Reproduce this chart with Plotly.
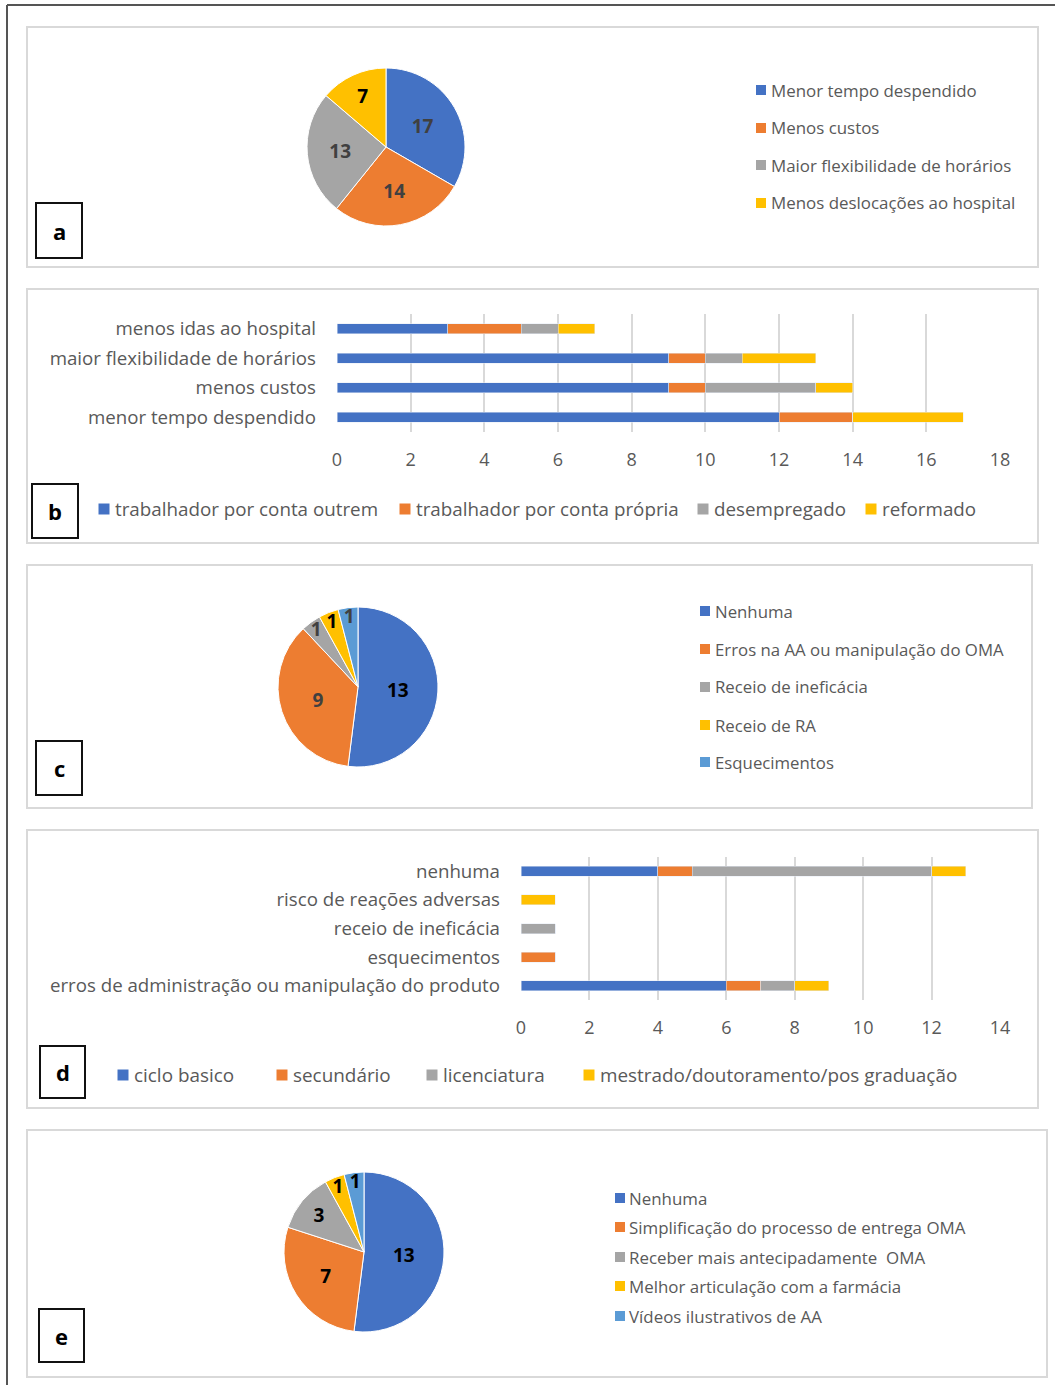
import plotly.graph_objects as go

W, H = 1055, 1385
FONT = "Open Sans"
GRAY_TXT = "#595959"

# ---------------- data ----------------
a_labels = ["Menor tempo despendido", "Menos custos", "Maior flexibilidade de horários", "Menos deslocações ao hospital"]
a_values = [17, 14, 13, 7]

b_categories = ["menor tempo despendido", "menos custos", "maior flexibilidade de horários", "menos idas ao hospital"]
b_series = ["trabalhador por conta outrem", "trabalhador por conta própria", "desempregado", "reformado"]
b_outrem = [12, 9, 9, 3]
b_propria = [2, 1, 1, 2]
b_desempregado = [0, 3, 1, 1]
b_reformado = [3, 1, 2, 1]

c_labels = ["Nenhuma", "Erros na AA ou manipulação do OMA", "Receio de ineficácia", "Receio de RA", "Esquecimentos"]
c_values = [13, 9, 1, 1, 1]

d_categories = ["erros de administração ou manipulação do produto", "esquecimentos", "receio de ineficácia",
                "risco de reações adversas", "nenhuma"]
d_series = ["ciclo basico", "secundário", "licenciatura", "mestrado/doutoramento/pos graduação"]
d_ciclo = [6, 0, 0, 0, 4]
d_secundario = [1, 1, 0, 0, 1]
d_licenciatura = [1, 0, 1, 0, 7]
d_mestrado = [1, 0, 0, 1, 1]

e_labels = ["Nenhuma", "Simplificação do processo de entrega OMA", "Receber mais antecipadamente  OMA",
            "Melhor articulação com a farmácia", "Vídeos ilustrativos de AA"]
e_values = [13, 7, 3, 1, 1]

panel_letters = ["a", "b", "c", "d", "e"]

# ---------------- styling ----------------
BLUE, ORANGE, GRAY, YELLOW, LBLUE = "#4472C4", "#ED7D31", "#A5A5A5", "#FFC000", "#5B9BD5"


def X(px):
    return px / W


def Y(py):
    return 1 - py / H


fig = go.Figure()


def pie_domain(cx, cy, r):
    return dict(x=[X(cx - r), X(cx + r)], y=[Y(cy + r), Y(cy - r)])


def add_pie(labels, values, colors, txtcolors, dom):
    fig.add_trace(go.Pie(
        labels=labels, values=values, sort=False, direction="clockwise", rotation=0,
        marker=dict(colors=colors, line=dict(color="white", width=1)),
        textinfo="value", texttemplate="<b>%{value}</b>",
        textposition="inside", insidetextorientation="horizontal",
        textfont=dict(family=FONT, size=19, color=txtcolors),
        domain=dom, showlegend=False, hoverinfo="label+value", automargin=False,
    ))


add_pie(a_labels, a_values, [BLUE, ORANGE, GRAY, YELLOW],
        ["#404040", "#404040", "#404040", "#000000"], pie_domain(386, 147, 79))
add_pie(c_labels, c_values, [BLUE, ORANGE, GRAY, YELLOW, LBLUE],
        ["#000000", "#404040", "#404040", "#000000", "#404040"], pie_domain(358, 687, 80))
add_pie(e_labels, e_values, [BLUE, ORANGE, GRAY, YELLOW, LBLUE],
        ["#000000"] * 5, pie_domain(364, 1252, 80))

# bar chart b
for name, vals, col in zip(b_series, [b_outrem, b_propria, b_desempregado, b_reformado],
                           [BLUE, ORANGE, GRAY, YELLOW]):
    fig.add_trace(go.Bar(x=vals, y=b_categories, orientation="h", name=name, marker_color=col,
                         xaxis="x", yaxis="y", showlegend=False))

# bar chart d
for name, vals, col in zip(d_series, [d_ciclo, d_secundario, d_licenciatura, d_mestrado],
                           [BLUE, ORANGE, GRAY, YELLOW]):
    fig.add_trace(go.Bar(x=vals, y=d_categories, orientation="h", name=name, marker_color=col,
                         xaxis="x2", yaxis="y2", showlegend=False))

xaxis_common = dict(showgrid=True, gridcolor="#d9d9d9", gridwidth=1.5, zeroline=False, showline=False,
                    ticks="", dtick=2, tickfont=dict(family=FONT, size=18, color=GRAY_TXT),
                    ticklabelstandoff=15, fixedrange=True, automargin=False)
yaxis_common = dict(showgrid=False, zeroline=False, showline=False, ticks="", type="category",
                    tickfont=dict(family=FONT, size=18.7, color=GRAY_TXT), ticklabelstandoff=20,
                    fixedrange=True, automargin=False)

fig.update_layout(
    width=W, height=H, margin=dict(l=0, r=0, t=0, b=0, pad=0, autoexpand=False),
    paper_bgcolor="white", plot_bgcolor="white",
    barmode="stack", bargap=0.65,
    xaxis=dict(domain=[X(337), X(1000)], range=[0, 18], anchor="y", **xaxis_common),
    yaxis=dict(domain=[Y(432), Y(314)], range=[-0.5, 3.5], anchor="x", **yaxis_common),
    xaxis2=dict(domain=[X(521), X(1000)], range=[0, 14], anchor="y2", **xaxis_common),
    yaxis2=dict(domain=[Y(1000), Y(857)], range=[-0.5, 4.5], anchor="x2", **yaxis_common),
    uniformtext=dict(minsize=19, mode="show"),
    showlegend=False,
)

shapes = []
annotations = []

# outer frame (top and left)
shapes.append(dict(type="line", xref="paper", yref="paper", x0=X(7), x1=X(1056), y0=Y(5), y1=Y(5),
                   line=dict(color="#555555", width=2)))
shapes.append(dict(type="line", xref="paper", yref="paper", x0=X(7), x1=X(7), y0=Y(5), y1=Y(1386),
                   line=dict(color="#555555", width=2)))

# panel frames
panels = [(27, 27, 1038, 267), (27, 289, 1038, 543), (27, 565, 1032, 808),
          (27, 830, 1038, 1108), (27, 1130, 1047, 1377)]
for (x0, y0, x1, y1) in panels:
    shapes.append(dict(type="rect", xref="paper", yref="paper", x0=X(x0), x1=X(x1), y0=Y(y1), y1=Y(y0),
                       line=dict(color="#d9d9d9", width=2), layer="below"))

# letter boxes
letter_boxes = [(36, 203, 82, 258), (32, 484, 78, 538), (36, 741, 82, 795), (40, 1046, 85, 1098),
                (39, 1309, 84, 1362)]
for letter, (x0, y0, x1, y1) in zip(panel_letters, letter_boxes):
    shapes.append(dict(type="rect", xref="paper", yref="paper", x0=X(x0), x1=X(x1), y0=Y(y1), y1=Y(y0),
                       line=dict(color="#111111", width=2), fillcolor="white"))
    annotations.append(dict(text=f"<b>{letter}</b>", xref="paper", yref="paper",
                            x=X((x0 + x1) / 2), y=Y((y0 + y1) / 2), showarrow=False,
                            xanchor="center", yanchor="middle",
                            font=dict(family=FONT, size=22, color="#000000")))


def add_legend(labels, colors, sq_x, text_x, ys, size, sq=10):
    for lab, col, yy in zip(labels, colors, ys):
        shapes.append(dict(type="rect", xref="paper", yref="paper",
                           x0=X(sq_x - sq / 2), x1=X(sq_x + sq / 2),
                           y0=Y(yy + sq / 2), y1=Y(yy - sq / 2),
                           fillcolor=col, line=dict(width=0)))
        annotations.append(dict(text=lab, xref="paper", yref="paper", x=X(text_x), y=Y(yy),
                                xanchor="left", yanchor="middle", showarrow=False,
                                font=dict(family=FONT, size=size, color=GRAY_TXT)))


def add_h_legend(labels, colors, sq_xs, y, size, sq=11):
    for lab, col, sx in zip(labels, colors, sq_xs):
        shapes.append(dict(type="rect", xref="paper", yref="paper",
                           x0=X(sx - sq / 2), x1=X(sx + sq / 2),
                           y0=Y(y + sq / 2), y1=Y(y - sq / 2),
                           fillcolor=col, line=dict(width=0)))
        annotations.append(dict(text=lab, xref="paper", yref="paper", x=X(sx + 9), y=Y(y),
                                xanchor="left", yanchor="middle", showarrow=False,
                                font=dict(family=FONT, size=size, color=GRAY_TXT)))


add_legend(a_labels, [BLUE, ORANGE, GRAY, YELLOW], 761, 769, [90, 128, 165, 203], 16.9)
add_legend(c_labels, [BLUE, ORANGE, GRAY, YELLOW, LBLUE], 705, 713, [611, 649, 687, 725, 762], 16.8)
add_legend(e_labels, [BLUE, ORANGE, GRAY, YELLOW, LBLUE], 620, 627, [1198, 1227, 1257, 1286, 1316], 16.9)
add_h_legend(b_series, [BLUE, ORANGE, GRAY, YELLOW], [104, 405, 703, 871], 509, 18.8)
add_h_legend(d_series, [BLUE, ORANGE, GRAY, YELLOW], [123, 282, 432, 589], 1075, 18.9)

fig.update_layout(shapes=shapes, annotations=annotations)

fig.write_html("out.html", config={"displayModeBar": False},
               post_script="document.body.style.margin='0';document.body.style.overflow='hidden';")
